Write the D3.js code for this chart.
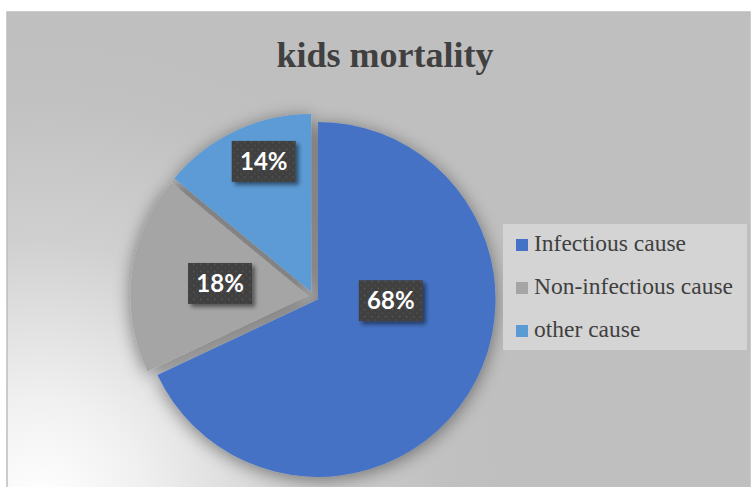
<!DOCTYPE html>
<html>
<head>
<meta charset="utf-8">
<script src="https://cdn.jsdelivr.net/npm/d3@7/dist/d3.min.js"></script>
<style>
  html, body { margin: 0; padding: 0; background: #ffffff; }
  svg { display: block; }
</style>
</head>
<body>
<div id="chart"></div>
<script>
// Causes of child mortality (share of deaths, %)
const categories = ["Infectious cause", "Non-infectious cause", "other cause"];
const shares = [68, 18, 14];
const sliceColors = ["#4472C4", "#A5A5A5", "#5B9BD5"];
const titleText = "kids mortality";

// Hand-tuned label placement per slice: [angle in degrees, distance as fraction of radius]
const labelPlacement = [[91, 0.41], [278, 0.50], [340, 0.78]];

const W = 751, H = 487;
const frame = { x: 7, y: 12, w: 743, h: 480 };
const pieCenter = { x: 313.4, y: 296.5 };
const radius = 177.5;
const explode = 5.5;

const svg = d3.select("#chart").append("svg")
  .attr("width", W).attr("height", H);

const defs = svg.append("defs");

// Chart area fill: radial highlight in the lower-left corner
const bg = defs.append("radialGradient")
  .attr("id", "bgGrad")
  .attr("gradientUnits", "userSpaceOnUse")
  .attr("cx", 40).attr("cy", 500).attr("r", 470);
[[0, "#ffffff"], [0.22, "#f0f0f0"], [0.55, "#d0d0d0"], [0.85, "#c1c1c1"], [1, "#bfbfbf"]]
  .forEach(([o, c]) => bg.append("stop").attr("offset", o).attr("stop-color", c));

// Soft shadow under the pie
const pieShadow = defs.append("filter").attr("id", "pieShadow")
  .attr("x", "-30%").attr("y", "-30%").attr("width", "160%").attr("height", "160%");
pieShadow.append("feGaussianBlur").attr("in", "SourceAlpha").attr("stdDeviation", 9).attr("result", "b");
pieShadow.append("feOffset").attr("in", "b").attr("dx", 0).attr("dy", 3).attr("result", "o");
pieShadow.append("feComponentTransfer").attr("in", "o").attr("result", "s")
  .append("feFuncA").attr("type", "linear").attr("slope", 0.45);
const pm = pieShadow.append("feMerge");
pm.append("feMergeNode").attr("in", "s");
pm.append("feMergeNode").attr("in", "SourceGraphic");

// Shadow for the label boxes
const boxShadow = defs.append("filter").attr("id", "boxShadow")
  .attr("x", "-30%").attr("y", "-30%").attr("width", "170%").attr("height", "170%");
boxShadow.append("feGaussianBlur").attr("in", "SourceAlpha").attr("stdDeviation", 2.2).attr("result", "b");
boxShadow.append("feOffset").attr("in", "b").attr("dx", 3).attr("dy", 3).attr("result", "o");
boxShadow.append("feComponentTransfer").attr("in", "o").attr("result", "s")
  .append("feFuncA").attr("type", "linear").attr("slope", 0.5);
const bm = boxShadow.append("feMerge");
bm.append("feMergeNode").attr("in", "s");
bm.append("feMergeNode").attr("in", "SourceGraphic");

// Dotted texture inside the label boxes
const dots = defs.append("pattern").attr("id", "dots")
  .attr("patternUnits", "userSpaceOnUse").attr("width", 7).attr("height", 7);
dots.append("rect").attr("width", 7).attr("height", 7).attr("fill", "#404040");
dots.append("circle").attr("cx", 1.8).attr("cy", 1.8).attr("r", 0.9).attr("fill", "#5a5a5a");
dots.append("circle").attr("cx", 5.3).attr("cy", 5.3).attr("r", 0.9).attr("fill", "#4e4e4e");

// Chart area
svg.append("rect")
  .attr("x", frame.x).attr("y", frame.y)
  .attr("width", frame.w).attr("height", frame.h)
  .attr("fill", "url(#bgGrad)")
  .attr("stroke", "#bdbdbd").attr("stroke-width", 1.5);

// Title
svg.append("text")
  .attr("x", 385).attr("y", 67)
  .attr("text-anchor", "middle")
  .attr("font-family", "'Liberation Serif', 'Times New Roman', serif")
  .attr("font-weight", "bold")
  .attr("font-size", 36)
  .attr("fill", "#404040")
  .text(titleText);

// Pie
const pie = d3.pie().sort(null).value(d => d)(shares);
const arc = d3.arc().innerRadius(0).outerRadius(radius);
const toRad = deg => deg * Math.PI / 180;

function offsetFor(d) {
  const a = (d.startAngle + d.endAngle) / 2;
  return [Math.sin(a) * explode, -Math.cos(a) * explode];
}

const pieG = svg.append("g")
  .attr("transform", `translate(${pieCenter.x},${pieCenter.y})`)
  .attr("filter", "url(#pieShadow)");

pieG.selectAll("path.slice")
  .data(pie)
  .join("path")
  .attr("class", "slice")
  .attr("transform", d => `translate(${offsetFor(d)})`)
  .attr("d", arc)
  .attr("fill", (d, i) => sliceColors[i]);

// Percentage labels in dark boxes
const labelG = svg.append("g")
  .attr("transform", `translate(${pieCenter.x},${pieCenter.y})`);

const labels = labelG.selectAll("g.label")
  .data(pie)
  .join("g")
  .attr("class", "label")
  .attr("transform", (d, i) => {
    const [o0, o1] = offsetFor(d);
    const [ang, frac] = labelPlacement[i];
    const a = toRad(ang);
    return `translate(${o0 + Math.sin(a) * radius * frac},${o1 - Math.cos(a) * radius * frac})`;
  });

const boxW = 64, boxH = 41;
labels.append("rect")
  .attr("x", -boxW / 2).attr("y", -boxH / 2)
  .attr("width", boxW).attr("height", boxH)
  .attr("fill", "url(#dots)")
  .attr("filter", "url(#boxShadow)");

labels.append("text")
  .attr("text-anchor", "middle")
  .attr("dy", "0.36em")
  .attr("font-family", "Lato, 'Open Sans', sans-serif")
  .attr("font-weight", "bold")
  .attr("font-size", 24)
  .attr("fill", "#ffffff")
  .text(d => d.data + "%");

// Legend
const legend = svg.append("g").attr("transform", "translate(503,224)");
legend.append("rect")
  .attr("width", 244).attr("height", 126)
  .attr("fill", "#d4d4d4");

const rows = legend.selectAll("g.row")
  .data(categories)
  .join("g")
  .attr("class", "row")
  .attr("transform", (d, i) => `translate(0,${27 + i * 43})`);

rows.append("rect")
  .attr("x", 13).attr("y", -12)
  .attr("width", 12).attr("height", 12)
  .attr("fill", (d, i) => sliceColors[i]);

rows.append("text")
  .attr("x", 31).attr("y", 0)
  .attr("font-family", "'Liberation Serif', 'Times New Roman', serif")
  .attr("font-size", 23.5)
  .attr("fill", "#404040")
  .text(d => d);
</script>
</body>
</html>
